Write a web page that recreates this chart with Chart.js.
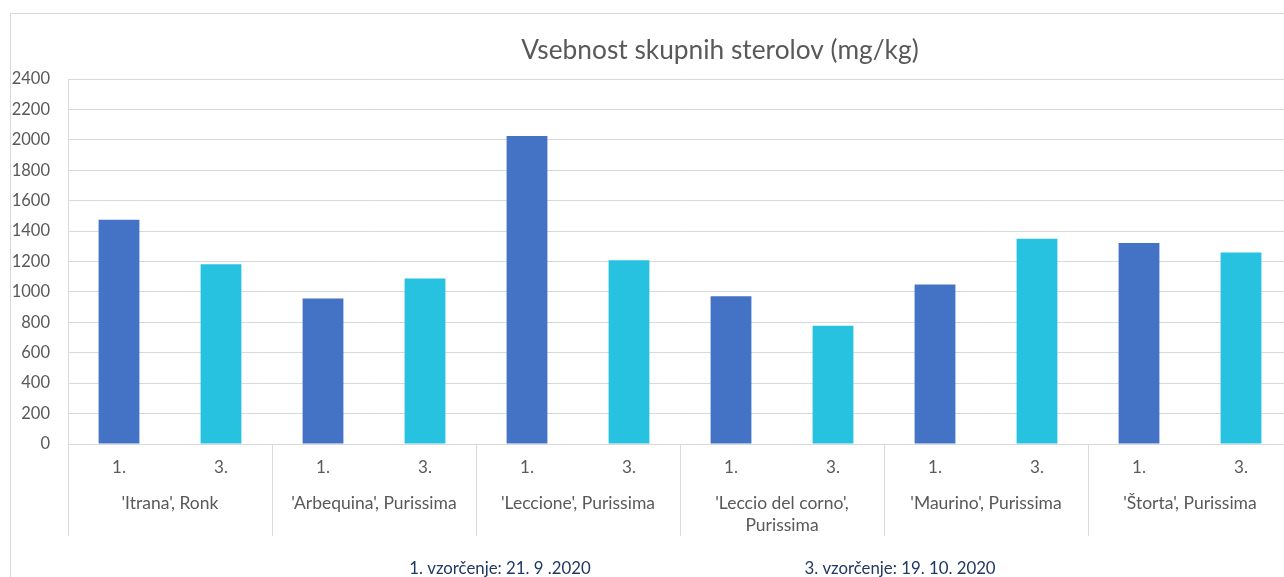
<!DOCTYPE html>
<html><head><meta charset="utf-8">
<script src="https://cdn.jsdelivr.net/npm/chart.js@4"></script>
<style>html,body{margin:0;padding:0;overflow:hidden;background:#fff}#wrap{position:relative;width:1300px;height:577px}</style>
</head><body><div id="wrap"><canvas id="c" width="1300" height="577"></canvas></div>
<script>
const chartTitle = "Vsebnost skupnih sterolov (mg/kg)";
const groups = [["'Itrana', Ronk"], ["'Arbequina', Purissima"], ["'Leccione', Purissima"], ["'Leccio del corno',", "Purissima"], ["'Maurino', Purissima"], ["'Štorta', Purissima"]];
const samplings = ["1.", "3."];
const series1 = [1475, 957, 2025, 972, 1048, 1321];
const series3 = [1182, 1088, 1209, 778, 1350, 1259];
const yMin = 0, yMax = 2400, yStep = 200;
const footnotes = ["1. vzorčenje: 21. 9 .2020", "3. vzorčenje: 19. 10. 2020"];

const FONT = "Lato";
const labels = groups.flatMap(() => samplings);
const data1 = groups.flatMap((g, i) => [series1[i], null]);
const data3 = groups.flatMap((g, i) => [null, series3[i]]);

const decor = {
  id: 'decor',
  beforeDraw(chart) {
    const ctx = chart.ctx;
    ctx.save();
    ctx.strokeStyle = '#d9d9d9';
    ctx.lineWidth = 1;
    ctx.strokeRect(10.5, 13.5, 1400, 700);
    ctx.restore();
  },
  afterDraw(chart) {
    const ctx = chart.ctx;
    const x = chart.scales.x;
    const area = chart.chartArea;
    ctx.save();
    ctx.strokeStyle = '#d9d9d9';
    ctx.lineWidth = 1;
    const n = samplings.length;
    const step = x.getPixelForValue(1) - x.getPixelForValue(0);
    for (let g = 0; g <= groups.length; g++) {
      let px = g < groups.length ? x.getPixelForValue(g * n) - step / 2 : area.right;
      px = Math.round(px) + 0.5;
      ctx.beginPath(); ctx.moveTo(px, area.bottom); ctx.lineTo(px, 536); ctx.stroke();
    }
    ctx.fillStyle = '#595959';
    ctx.font = `17.5px ${FONT}`;
    ctx.textAlign = 'center';
    ctx.textBaseline = 'middle';
    groups.forEach((lines, g) => {
      const cx = (x.getPixelForValue(g * n) + x.getPixelForValue(g * n + n - 1)) / 2;
      lines.forEach((t, k) => ctx.fillText(t, cx, 503 + k * 22));
    });
    ctx.font = `26.3px ${FONT}`;
    ctx.fillText(chartTitle, 720, 51);
    ctx.fillStyle = '#1f3864';
    ctx.font = `16.8px ${FONT}`;
    ctx.fillText(footnotes[0], 500, 569);
    ctx.fillText(footnotes[1], 900, 569);
    ctx.restore();
  }
};

new Chart(document.getElementById('c'), {
  type: 'bar',
  data: {
    labels,
    datasets: [
      { label: samplings[0], data: data1, backgroundColor: '#4472c4', grouped: false, barPercentage: 0.4, categoryPercentage: 1 },
      { label: samplings[1], data: data3, backgroundColor: '#27c2e0', grouped: false, barPercentage: 0.4, categoryPercentage: 1 }
    ]
  },
  options: {
    responsive: false,
    animation: false,
    devicePixelRatio: 1,
    layout: { padding: { top: 79, left: 0, right: 8, bottom: 0 } },
    plugins: { legend: { display: false }, title: { display: false }, tooltip: { enabled: false } },
    scales: {
      x: {
        grid: { display: false, drawTicks: false },
        border: { color: '#d9d9d9' },
        ticks: { color: '#595959', font: { family: FONT, size: 17 }, padding: 13, maxRotation: 0, autoSkip: false },
        afterFit(s) { s.height = 133; }
      },
      y: {
        min: yMin, max: yMax,
        grid: { color: '#d9d9d9', drawTicks: false },
        border: { display: true, color: '#d9d9d9' },
        ticks: { stepSize: yStep, color: '#595959', font: { family: FONT, size: 16.5 }, padding: 18, callback: v => String(v) },
        afterFit(s) { s.width = 68; }
      }
    }
  },
  plugins: [decor]
});
</script>
</body></html>
